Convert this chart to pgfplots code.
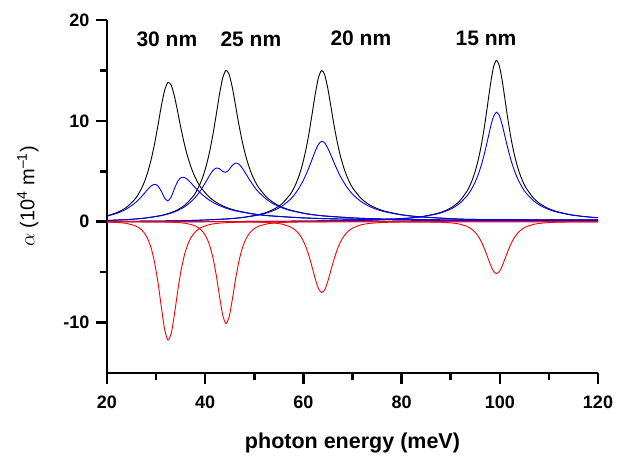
\documentclass[border=0pt]{standalone}
\usepackage{fontspec}
\setmainfont{Liberation Sans}
\usepackage{pgfplots}
\pgfplotsset{compat=1.18}
\begin{document}
\begin{tikzpicture}
\useasboundingbox (-107pt,-88pt) rectangle (512pt,373pt);
\begin{axis}[
  scale only axis, width=491pt, height=353pt,
  xmin=20, xmax=120, ymin=-15, ymax=20,
  axis lines=left,
  axis line style={-, line width=2.6pt},
  tick align=outside,
  major tick length=11pt, minor tick length=7pt,
  major tick style={black, line width=2.6pt},
  minor tick style={black, line width=2.6pt},
  xtick={20,40,60,80,100,120}, xticklabels={20,40,60,80,100,120},
  ytick={-10,0,10,20}, yticklabels={-10,0,10,20},
  minor x tick num=1, minor y tick num=1,
  ticklabel style={font=\fontsize{18}{21}\selectfont\bfseries},
  xticklabel style={yshift=-8pt},
  yticklabel style={xshift=-3pt},
  xlabel={\fontsize{21.5}{24}\selectfont\bfseries photon energy (meV)},
  ylabel={\fontsize{20}{23}\selectfont $\alpha$ (10\textsuperscript{4} m\textsuperscript{\textendash 1})},
  xlabel style={yshift=-18pt},
  ylabel style={yshift=18pt},
  every axis plot/.append style={line width=0.9pt, smooth, tension=0.4},
  clip=true,
]
% 30 nm
\addplot[black] coordinates {(20,0.594)(20.5,0.659)(22.2,0.945)(23.9,1.404)(25.6,2.180)(26.28,2.639)(26.96,3.225)(27.64,3.976)(28.32,4.943)(29.0,6.176)(29.68,7.708)(30.36,9.508)(31.04,11.397)(31.72,12.990)(32.4,13.8)(33.08,13.547)(33.76,12.397)(34.44,10.786)(35.12,9.122)(35.8,7.625)(36.48,6.368)(37.16,5.347)(37.84,4.528)(38.52,3.869)(39.2,3.340)(40.9,2.402)(42.6,1.815)(44.3,1.424)(46.0,1.152)(49.4,0.810)(52.8,0.607)(59.6,0.391)(66.4,0.280)(83.4,0.157)(100.4,0.106)(120,0.077)};
% 25 nm
\addplot[black] coordinates {(20,0.124)(24.4,0.224)(27.7,0.362)(31.0,0.618)(32.65,0.837)(34.3,1.164)(35.95,1.682)(37.6,2.553)(38.26,3.063)(38.92,3.712)(39.58,4.535)(40.24,5.594)(40.9,6.938)(41.56,8.598)(42.22,10.533)(42.88,12.544)(43.54,14.206)(44.2,15.0)(44.86,14.639)(45.52,13.319)(46.18,11.526)(46.84,9.696)(47.5,8.063)(48.16,6.700)(48.82,5.599)(49.48,4.715)(50.14,4.011)(50.8,3.447)(52.45,2.455)(54.1,1.836)(55.75,1.428)(57.4,1.146)(60.7,0.793)(64.0,0.586)(70.6,0.368)(77.2,0.259)(93.7,0.141)(120,0.077)};
% 20 nm
\addplot[black] coordinates {(20,0.025)(31.7,0.074)(38.1,0.138)(44.5,0.283)(47.7,0.433)(50.9,0.705)(52.5,0.933)(54.1,1.274)(55.7,1.808)(57.3,2.700)(57.94,3.219)(58.58,3.876)(59.22,4.712)(59.86,5.778)(60.5,7.125)(61.14,8.781)(61.78,10.699)(62.42,12.673)(63.06,14.278)(63.7,15.0)(64.34,14.567)(64.98,13.190)(65.62,11.360)(66.26,9.513)(66.9,7.875)(67.54,6.516)(68.18,5.422)(68.82,4.551)(69.46,3.855)(70.1,3.300)(71.7,2.329)(73.3,1.727)(74.9,1.332)(76.5,1.059)(79.7,0.722)(82.9,0.527)(89.3,0.323)(95.7,0.223)(120,0.177)};
% 15 nm
\addplot[black] coordinates {(20,0.005)(39.3,0.016)(54.3,0.039)(69.3,0.111)(75.3,0.187)(81.3,0.354)(84.3,0.523)(87.3,0.827)(88.8,1.080)(90.3,1.454)(91.8,2.039)(93.3,3.008)(93.9,3.569)(94.5,4.279)(95.1,5.178)(95.7,6.321)(96.3,7.760)(96.9,9.523)(97.5,11.553)(98.1,13.628)(98.7,15.292)(99.3,16.0)(99.9,15.476)(100.5,13.959)(101.1,11.977)(101.7,9.991)(102.3,8.240)(102.9,6.793)(103.5,5.632)(104.1,4.710)(104.7,3.977)(105.3,3.392)(106.8,2.374)(108.3,1.746)(109.8,1.336)(111.3,1.055)(114.3,0.709)(117.3,0.510)(120,0.398)};
% blue
\addplot[blue] coordinates {(20,0.559)(20.5,0.617)(22.2,0.865)(23.9,1.239)(25.6,1.809)(26.28,2.110)(26.96,2.454)(27.64,2.833)(28.32,3.219)(29.0,3.549)(29.68,3.710)(30.36,3.560)(31.04,3.038)(31.72,2.363)(32.4,2.06)(33.08,2.464)(33.76,3.305)(34.44,4.038)(35.12,4.390)(35.8,4.382)(36.48,4.147)(37.16,3.811)(37.84,3.446)(38.52,3.093)(39.2,2.772)(40.9,2.120)(42.6,1.661)(44.3,1.333)(46.0,1.094)(49.4,0.784)(52.8,0.593)(59.6,0.386)(66.4,0.278)(83.4,0.157)(100.4,0.106)(120,0.077)};
\addplot[blue] coordinates {(20,0.122)(24.4,0.220)(27.7,0.353)(31.0,0.594)(32.65,0.794)(34.3,1.086)(35.95,1.526)(37.6,2.209)(38.26,2.577)(38.92,3.010)(39.58,3.504)(40.24,4.050)(40.9,4.602)(41.56,5.068)(42.22,5.318)(42.88,5.263)(43.54,5.008)(44.2,4.9)(44.86,5.161)(45.52,5.587)(46.18,5.819)(46.84,5.715)(47.5,5.349)(48.16,4.850)(48.82,4.326)(49.48,3.823)(50.14,3.374)(50.8,2.983)(52.45,2.227)(54.1,1.712)(55.75,1.355)(57.4,1.101)(60.7,0.772)(64.0,0.575)(70.6,0.364)(77.2,0.257)(93.7,0.141)(120,0.077)};
\addplot[blue] coordinates {(20,0.025)(31.7,0.073)(38.1,0.136)(44.5,0.275)(47.7,0.415)(50.9,0.660)(52.5,0.859)(54.1,1.143)(55.7,1.562)(57.3,2.201)(57.94,2.542)(58.58,2.947)(59.22,3.425)(59.86,3.988)(60.5,4.642)(61.14,5.384)(61.78,6.195)(62.42,7.004)(63.06,7.661)(63.7,7.97)(64.34,7.817)(64.98,7.290)(65.62,6.577)(66.26,5.833)(66.9,5.131)(67.54,4.498)(68.18,3.942)(68.82,3.460)(69.46,3.044)(70.1,2.690)(71.7,2.012)(73.3,1.550)(74.9,1.226)(76.5,0.992)(79.7,0.692)(82.9,0.511)(89.3,0.317)(95.7,0.221)(120,0.177)};
\addplot[blue] coordinates {(20,0.005)(39.3,0.016)(54.3,0.039)(69.3,0.110)(75.3,0.184)(81.3,0.345)(84.3,0.504)(87.3,0.782)(88.8,1.006)(90.3,1.327)(91.8,1.806)(93.3,2.550)(93.9,2.959)(94.5,3.457)(95.1,4.064)(95.7,4.809)(96.3,5.718)(96.9,6.810)(97.5,8.062)(98.1,9.354)(98.7,10.405)(99.3,10.86)(99.9,10.530)(100.5,9.581)(101.1,8.358)(101.7,7.145)(102.3,6.072)(102.9,5.168)(103.5,4.421)(104.1,3.805)(104.7,3.297)(105.3,2.876)(106.8,2.103)(108.3,1.593)(109.8,1.245)(111.3,0.997)(114.3,0.683)(117.3,0.497)(120,0.390)};
% red
\addplot[red] coordinates {(20,-0.035)(20.5,-0.042)(22.2,-0.080)(23.9,-0.165)(25.6,-0.371)(26.28,-0.529)(26.96,-0.771)(27.64,-1.143)(28.32,-1.724)(29.0,-2.627)(29.68,-3.998)(30.36,-5.948)(31.04,-8.359)(31.72,-10.627)(32.4,-11.74)(33.08,-11.083)(33.76,-9.092)(34.44,-6.748)(35.12,-4.732)(35.8,-3.243)(36.48,-2.221)(37.16,-1.536)(37.84,-1.082)(38.52,-0.776)(39.2,-0.568)(40.9,-0.282)(42.6,-0.154)(44.3,-0.091)(46.0,-0.058)(49.4,-0.026)(52.8,-0.014)(59.6,-0.005)(66.4,-0.002)(120,0)};
\addplot[red] coordinates {(20,-0.0015)(24.4,-0.004)(27.7,-0.009)(31.0,-0.024)(32.65,-0.043)(34.3,-0.078)(35.95,-0.156)(37.6,-0.344)(38.26,-0.486)(38.92,-0.702)(39.58,-1.031)(40.24,-1.544)(40.9,-2.336)(41.56,-3.530)(42.22,-5.215)(42.88,-7.281)(43.54,-9.198)(44.2,-10.1)(44.86,-9.478)(45.52,-7.732)(46.18,-5.707)(46.84,-3.981)(47.5,-2.714)(48.16,-1.850)(48.82,-1.273)(49.48,-0.892)(50.14,-0.637)(50.8,-0.464)(52.45,-0.228)(54.1,-0.124)(55.75,-0.073)(57.4,-0.045)(60.7,-0.021)(64.0,-0.011)(70.6,-0.004)(120,0)};
\addplot[red] coordinates {(20,0)(31.7,-0.001)(38.1,-0.002)(44.5,-0.009)(47.7,-0.018)(50.9,-0.045)(52.5,-0.074)(54.1,-0.131)(55.7,-0.246)(57.3,-0.499)(57.94,-0.677)(58.58,-0.929)(59.22,-1.287)(59.86,-1.790)(60.5,-2.483)(61.14,-3.397)(61.78,-4.504)(62.42,-5.669)(63.06,-6.617)(63.7,-7.03)(64.34,-6.750)(64.98,-5.900)(65.62,-4.783)(66.26,-3.680)(66.9,-2.744)(67.54,-2.018)(68.18,-1.480)(68.82,-1.091)(69.46,-0.811)(70.1,-0.610)(71.7,-0.317)(73.3,-0.177)(74.9,-0.106)(76.5,-0.067)(79.7,-0.030)(82.9,-0.016)(89.3,-0.006)(95.7,-0.002)(120,0)};
\addplot[red] coordinates {(20,0)(69.3,-0.001)(75.3,-0.003)(81.3,-0.009)(84.3,-0.019)(87.3,-0.045)(88.8,-0.074)(90.3,-0.127)(91.8,-0.233)(93.3,-0.458)(93.9,-0.610)(94.5,-0.822)(95.1,-1.114)(95.7,-1.512)(96.3,-2.042)(96.9,-2.713)(97.5,-3.491)(98.1,-4.274)(98.7,-4.887)(99.3,-5.14)(99.9,-4.946)(100.5,-4.378)(101.1,-3.619)(101.7,-2.846)(102.3,-2.168)(102.9,-1.625)(103.5,-1.211)(104.1,-0.905)(104.7,-0.680)(105.3,-0.516)(106.8,-0.271)(108.3,-0.153)(109.8,-0.091)(111.3,-0.058)(114.3,-0.026)(117.3,-0.013)(120,-0.008)};
\node[font=\fontsize{21}{24}\selectfont\bfseries] at (axis cs:32.2,18.1) {30 nm};
\node[font=\fontsize{21}{24}\selectfont\bfseries] at (axis cs:49.3,18.1) {25 nm};
\node[font=\fontsize{21}{24}\selectfont\bfseries] at (axis cs:71.7,18.2) {20 nm};
\node[font=\fontsize{21}{24}\selectfont\bfseries] at (axis cs:97.2,18.2) {15 nm};
\end{axis}
\end{tikzpicture}
\end{document}
